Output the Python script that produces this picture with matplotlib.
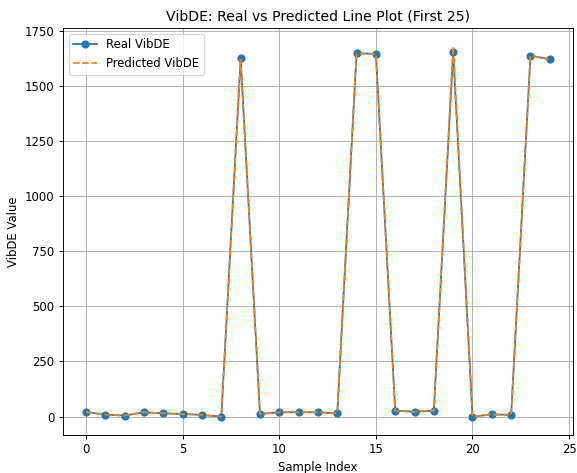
import matplotlib
matplotlib.use("Agg")
import matplotlib.pyplot as plt
import numpy as np

idx = np.arange(25)
real = [21, 9, 5, 20, 15, 12, 8, 0, 1624, 12, 20, 20, 20, 15, 1647, 1644,
        27, 22, 27, 1653, 0, 10, 8, 1636, 1620]
pred = [21, 9, 5, 20, 15, 12, 8, 0, 1618, 12, 20, 20, 20, 15, 1647, 1644,
        27, 22, 27, 1678, 0, 10, 8, 1636, 1620]

DPI = 84
fig, ax = plt.subplots(figsize=(577 / DPI, 473 / DPI), dpi=DPI)
fig.subplots_adjust(left=0.109, right=0.993, top=0.941, bottom=0.080)

ax.plot(idx, real, marker='o', label='Real VibDE')
ax.plot(idx, pred, linestyle='--', label='Predicted VibDE')
ax.set_title('VibDE: Real vs Predicted Line Plot (First 25)')
ax.set_xlabel('Sample Index')
ax.set_ylabel('VibDE Value')
ax.legend(loc='upper left')
ax.grid(True)

fig.savefig('out.png', dpi=DPI)
